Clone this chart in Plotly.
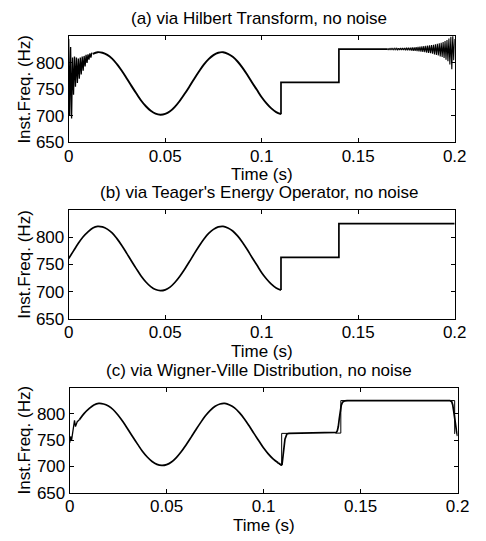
import plotly.graph_objects as go

# ---------------- data ----------------
# smooth FM part shared by the three estimates (time s, inst. freq Hz)
fm_t = [0.0, 0.0025, 0.005, 0.0075, 0.01, 0.0125, 0.015, 0.0175, 0.02, 0.0225,
        0.025, 0.0275, 0.03, 0.0325, 0.035, 0.0375, 0.04, 0.0425, 0.045, 0.0475,
        0.05, 0.0525, 0.055, 0.0575, 0.06, 0.0625, 0.065, 0.0675, 0.07, 0.0725,
        0.075, 0.0775, 0.08, 0.0825, 0.085, 0.0875, 0.09, 0.0925, 0.095, 0.0975,
        0.1, 0.1025, 0.105, 0.1075, 0.11]
fm_f = [761, 775, 789, 801, 810, 817, 820, 819, 815, 808,
        797.5, 785, 771, 756.5, 742.5, 729, 718, 709.5, 704, 702,
        703.5, 708.5, 717, 728, 741, 755, 769.5, 783.5, 796.5, 807,
        814.5, 819, 820, 817, 811.5, 802.5, 791, 777.5, 763, 749,
        735, 723.5, 714, 707, 703]

# piecewise constant part
step_t = [0.11, 0.11, 0.14, 0.14, 0.2]
step_f = [703, 763, 763, 825, 825]

# (a) Hilbert: start-up oscillation
hil_start_t = [0.0, 0.0005, 0.001, 0.0015, 0.002, 0.0025, 0.003, 0.0035, 0.004,
               0.0045, 0.005, 0.0055, 0.006, 0.0065, 0.007, 0.0075, 0.008,
               0.0085, 0.009, 0.0095, 0.01, 0.0105, 0.011, 0.0115, 0.012]
hil_start_f = [845, 700, 830, 695, 810, 740, 812, 755, 810,
               762, 808, 770, 810, 778, 812, 785, 813,
               793, 815, 800, 816, 806, 818, 810, 819]
# (a) Hilbert: steps and end oscillation
hil_step_t = [0.11, 0.11, 0.14, 0.14, 0.165]
hil_step_f = [703, 763, 763, 826, 826]
hil_end_t = [0.165, 0.1655, 0.166, 0.1665, 0.167, 0.1675, 0.168, 0.1685, 0.169, 0.1695,
             0.17, 0.1705, 0.171, 0.1715, 0.172, 0.1725, 0.173, 0.1735, 0.174, 0.1745,
             0.175, 0.1755, 0.176, 0.1765, 0.177, 0.1775, 0.178, 0.1785, 0.179, 0.1795,
             0.18, 0.1805, 0.181, 0.1815, 0.182, 0.1825, 0.183, 0.1835, 0.184, 0.1845,
             0.185, 0.1855, 0.186, 0.1865, 0.187, 0.1875, 0.188, 0.1885, 0.189, 0.1895,
             0.19, 0.1905, 0.191, 0.1915, 0.192, 0.1925, 0.193, 0.1935, 0.194, 0.1945,
             0.195, 0.1955, 0.196, 0.1965, 0.197, 0.1975, 0.198, 0.1985, 0.199, 0.1995, 0.2]
hil_end_f = [827, 825, 827, 825, 827.2, 824.8, 827.3, 824.7, 827.4, 824.6,
             827.5, 824.5, 827.6, 824.4, 827.8, 824.2, 828, 824, 828.2, 823.8,
             828.4, 823.6, 828.6, 823.4, 828.8, 823, 829, 822.8, 829.3, 822.5,
             829.5, 822, 830, 821.5, 830.5, 821, 831, 820.5, 831.5, 820,
             832, 819, 832.5, 818.5, 833, 818, 833.5, 817, 834, 816,
             835, 815, 836, 814, 837, 812, 838, 811, 839, 809,
             841, 806, 843, 803, 846, 797, 849, 788, 851, 805, 845]

# (c) Wigner-Ville: start-up and smoothed transitions
wvd_start_t = [0.0, 0.0005, 0.001, 0.0015, 0.002, 0.0025, 0.003, 0.0035, 0.004, 0.0045, 0.005]
wvd_start_f = [745, 757, 750, 763, 768, 788, 776, 783, 786, 787, 789]
wvd_tr_t = [0.1075, 0.109, 0.1095, 0.11, 0.1105, 0.111, 0.1115, 0.112, 0.113, 0.125,
            0.137, 0.1375, 0.138, 0.1385, 0.139, 0.1395, 0.14, 0.1405, 0.141, 0.142,
            0.143, 0.17, 0.196, 0.197, 0.1975, 0.198, 0.1985, 0.199, 0.1995, 0.2]
wvd_tr_f = [707, 703, 704, 716, 736, 752, 759, 762, 763, 763.5,
            764, 765, 768, 776, 791, 806, 816, 821, 823.5, 825,
            825.5, 825.5, 825.5, 823, 817, 805, 790, 776, 766, 758]
wvd_edge_t = [0.107, 0.1093, 0.1093, 0.1125, None, 0.137, 0.1398, 0.1398, 0.1435, None,
              0.1965, 0.1985, 0.1985]
wvd_edge_f = [707, 702, 763, 763, None, 763.5, 763.5, 825.5, 825.5, None,
              825.5, 825.5, 762]

x_ticks = [0, 0.05, 0.1, 0.15, 0.2]
x_labels = ["0", "0.05", "0.1", "0.15", "0.2"]
y_ticks = [650, 700, 750, 800]
titles = ["(a) via Hilbert Transform, no noise",
          "(b) via Teager's Energy Operator, no noise",
          "(c) via Wigner-Ville Distribution, no noise"]

# ---------------- figure ----------------
W, H = 486, 541
FONT = "Liberation Sans, Arial, sans-serif"
FS_TICK = 17
FS_TXT = 17
fig = go.Figure()

# panel pixel boxes: (left, right, top, bottom)
boxes = [(66, 466, 37, 145), (66, 466, 214, 325), (67, 469, 395, 502)]


def add(xs, ys, panel, shape="linear", width=1.7):
    sfx = "" if panel == 1 else str(panel)
    fig.add_trace(go.Scatter(x=xs, y=ys, mode="lines",
                             line=dict(color="black", width=width, shape=shape),
                             xaxis="x" + sfx, yaxis="y" + sfx,
                             showlegend=False, hoverinfo="skip"))


# (a)
add(hil_start_t, hil_start_f, 1, width=1.3)
add(fm_t[5:], fm_f[5:], 1, shape="spline", width=1.9)
add(hil_step_t, hil_step_f, 1)
add(hil_end_t, hil_end_f, 1, width=1.1)
# (b)
add(fm_t, fm_f, 2, shape="spline")
add(step_t, step_f, 2)
# (c)
add(wvd_start_t, wvd_start_f, 3, width=1.3)
add(fm_t[2:44], fm_f[2:44], 3, shape="spline")
add(wvd_tr_t, wvd_tr_f, 3)
add(wvd_edge_t, wvd_edge_f, 3, width=1.0)

layout = dict(width=W, height=H, margin=dict(l=0, r=0, t=0, b=0),
              paper_bgcolor="white", plot_bgcolor="white",
              font=dict(family=FONT, size=FS_TXT, color="black"))
annotations = []
for i, (l, r, t, b) in enumerate(boxes, start=1):
    sfx = "" if i == 1 else str(i)
    common = dict(showline=True, linecolor="black", linewidth=1, mirror="ticks",
                  ticks="inside", ticklen=4, tickcolor="black", tickwidth=1,
                  showgrid=False, zeroline=False,
                  tickfont=dict(family=FONT, size=FS_TICK, color="black"))
    layout["xaxis" + sfx] = dict(common, domain=[l / W, r / W], range=[0, 0.2],
                                 tickvals=x_ticks, ticktext=x_labels,
                                 ticklabelstandoff=-2, anchor="y" + sfx)
    layout["yaxis" + sfx] = dict(common, domain=[1 - b / H, 1 - t / H], range=[650, 850],
                                 tickvals=y_ticks, anchor="x" + sfx)
    cx = (l + r) / 2 / W
    annotations.append(dict(text=titles[i - 1], x=0.542, y=1 - (t - 18) / H,
                            xref="paper", yref="paper", showarrow=False,
                            xanchor="center", yanchor="middle",
                            font=dict(family=FONT, size=FS_TXT)))
    annotations.append(dict(text="Time (s)", x=cx, y=1 - (b + 33) / H,
                            xref="paper", yref="paper", showarrow=False,
                            xanchor="center", yanchor="middle",
                            font=dict(family=FONT, size=FS_TXT)))
    annotations.append(dict(text="Inst.Freq. (Hz)", x=20 / W, y=1 - (t + b) / 2 / H,
                            xref="paper", yref="paper", showarrow=False, textangle=-90,
                            xanchor="center", yanchor="middle",
                            font=dict(family=FONT, size=FS_TXT)))
layout["annotations"] = annotations
fig.update_layout(**layout)
fig.write_html("out.html")
